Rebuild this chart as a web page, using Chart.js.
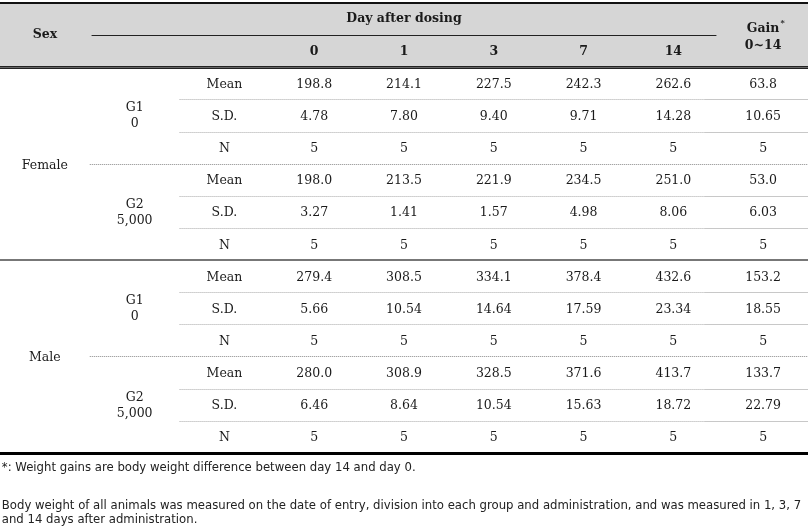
<!DOCTYPE html>
<html>
<head>
<meta charset="utf-8">
<script src="https://cdn.jsdelivr.net/npm/chart.js@4/dist/chart.umd.min.js"></script>
<style>
  html, body { margin: 0; padding: 0; background: #fff; }
  #wrap { width: 808px; height: 531px; }
</style>
</head>
<body>
<div id="wrap"><canvas id="tbl" width="808" height="531"></canvas></div>
<script>
// table content
const days = ["0", "1", "3", "7", "14"];
const sexes = ["Female", "Male"];
const groupNames = ["G1", "G2"];
const groupDoses = ["0", "5,000"];
const stats = ["Mean", "S.D.", "N"];

const femaleG1Mean = [198.8, 214.1, 227.5, 242.3, 262.6, 63.8];
const femaleG1SD = [4.78, 7.80, 9.40, 9.71, 14.28, 10.65];
const femaleG1N = [5, 5, 5, 5, 5, 5];
const femaleG2Mean = [198.0, 213.5, 221.9, 234.5, 251.0, 53.0];
const femaleG2SD = [3.27, 1.41, 1.57, 4.98, 8.06, 6.03];
const femaleG2N = [5, 5, 5, 5, 5, 5];
const maleG1Mean = [279.4, 308.5, 334.1, 378.4, 432.6, 153.2];
const maleG1SD = [5.66, 10.54, 14.64, 17.59, 23.34, 18.55];
const maleG1N = [5, 5, 5, 5, 5, 5];
const maleG2Mean = [280.0, 308.9, 328.5, 371.6, 413.7, 133.7];
const maleG2SD = [6.46, 8.64, 10.54, 15.63, 18.72, 22.79];
const maleG2N = [5, 5, 5, 5, 5, 5];

const footnotes = [
  "*: Weight gains are body weight difference between day 14 and day 0.",
  "Body weight of all animals was measured on the date of entry, division into each group and administration, and was measured in 1, 3, 7",
  "and 14 days after administration."
];

const blocks = [
  [femaleG1Mean, femaleG1SD, femaleG1N],
  [femaleG2Mean, femaleG2SD, femaleG2N],
  [maleG1Mean, maleG1SD, maleG1N],
  [maleG2Mean, maleG2SD, maleG2N]
];

const SERIF = '"DejaVu Serif", serif';
const BODY = "12.5px " + SERIF;
const BOLD = "bold 12.5px " + SERIF;
const NOTE = '11.7px "DejaVu Sans", sans-serif';

function fmt(v, k) {
  if (k === 0) return v.toFixed(1);
  if (k === 1) return v.toFixed(2);
  return String(v);
}

// every cell becomes a point, placed by the x (column) and y (row) scales
const cells = [];
cells.push({ x: 0.5, y: 1.0, text: "Sex", font: BOLD });
cells.push({ x: 4.5, y: 0.48, text: "Day after dosing", font: BOLD });
days.forEach((d, i) => cells.push({ x: 3.5 + i, y: 1.53, text: d, font: BOLD }));
cells.push({ x: 8.5, y: 0.8, text: "Gain", font: BOLD, sup: "*" });
cells.push({ x: 8.5, y: 1.33, text: "0~14", font: BOLD });

sexes.forEach((s, si) => {
  cells.push({ x: 0.5, y: 2 + si * 6 + 3.05, text: s, font: BODY });
  groupNames.forEach((g, gi) => {
    const top = 2 + si * 6 + gi * 3;
    cells.push({ x: 1.5, y: top + 1.27, text: g, font: BODY });
    cells.push({ x: 1.5, y: top + 1.77, text: groupDoses[gi], font: BODY });
    stats.forEach((st, k) => {
      cells.push({ x: 2.5, y: top + k + 0.54, text: st, font: BODY });
      blocks[si * 2 + gi][k].forEach((v, c) => {
        cells.push({ x: 3.5 + c, y: top + k + 0.54, text: fmt(v, k), font: BODY });
      });
    });
  });
});

footnotes.forEach((t, i) => {
  const ys = [14.48, 15.65, 16.1];
  cells.push({ x: 0.02, y: ys[i], text: t, font: NOTE, align: "left", color: "#222" });
});

const tablePlugin = {
  id: "tablePlugin",
  beforeDatasetsDraw(chart) {
    const { ctx, scales: { x, y } } = chart;
    const px = v => x.getPixelForValue(v);
    const py = v => y.getPixelForValue(v);
    ctx.save();
    // header shading
    ctx.fillStyle = "#d6d6d6";
    ctx.fillRect(px(0), py(0), px(9) - px(0), py(2) - py(0));

    function hline(x0, x1, yy, color, w, dash) {
      ctx.beginPath();
      ctx.strokeStyle = color;
      ctx.lineWidth = w;
      ctx.setLineDash(dash || []);
      ctx.moveTo(px(x0), Math.round(py(yy)) + (w % 2 ? 0.5 : 0));
      ctx.lineTo(px(x1), Math.round(py(yy)) + (w % 2 ? 0.5 : 0));
      ctx.stroke();
    }
    // top border
    hline(0, 9, 0, "#111", 2);
    // under "Day after dosing"
    hline(1.02, 7.98, 1.0, "#222", 1);
    // header bottom double rule
    const hb = Math.round(py(2));
    ctx.fillStyle = "#222";
    ctx.fillRect(px(0), hb - 1, px(9) - px(0), 1);
    ctx.fillStyle = "#666";
    ctx.fillRect(px(0), hb, px(9) - px(0), 1);
    ctx.fillStyle = "#222";
    ctx.fillRect(px(0), hb + 1, px(9) - px(0), 1);

    for (let b = 0; b < 4; b++) {
      const top = 2 + b * 3;
      // separators inside a group
      for (let k = 1; k < 3; k++) {
        hline(2, 7.85, top + k, "#a8a8a8", 1, [1, 1]);
        hline(7.85, 9, top + k, "#c8c8c8", 1);
      }
    }
    // between groups
    hline(1, 9, 5, "#8a8a8a", 1, [1, 1]);
    hline(1, 9, 11, "#8a8a8a", 1, [1, 1]);
    // between sexes
    hline(0, 9, 8, "#777", 2);
    // bottom border
    hline(0, 9, 14, "#000", 3);
    ctx.restore();
  },
  afterDatasetsDraw(chart) {
    const { ctx } = chart;
    const meta = chart.getDatasetMeta(0);
    ctx.save();
    ctx.textBaseline = "middle";
    meta.data.forEach((pt, i) => {
      const c = cells[i];
      ctx.font = c.font;
      ctx.fillStyle = c.color || "#1a1a1a";
      ctx.textAlign = c.align || "center";
      ctx.fillText(c.text, pt.x, pt.y);
      if (c.sup) {
        const w = ctx.measureText(c.text).width;
        ctx.font = "bold 8px " + SERIF;
        ctx.textAlign = "left";
        ctx.fillText(c.sup, pt.x + w / 2 + 1, pt.y - 6);
      }
    });
    ctx.restore();
  }
};

new Chart(document.getElementById("tbl"), {
  type: "scatter",
  data: {
    datasets: [{
      data: cells.map(c => ({ x: c.x, y: c.y })),
      pointRadius: 0,
      pointHoverRadius: 0
    }]
  },
  options: {
    responsive: false,
    animation: false,
    devicePixelRatio: 1,
    layout: { padding: { top: 3, left: 0, right: 0, bottom: 0 } },
    scales: {
      x: { type: "linear", min: 0, max: 9, display: false },
      y: { type: "linear", min: 0, max: 16.43, reverse: true, display: false }
    },
    plugins: { legend: { display: false }, tooltip: { enabled: false } }
  },
  plugins: [tablePlugin]
});
</script>
</body>
</html>
